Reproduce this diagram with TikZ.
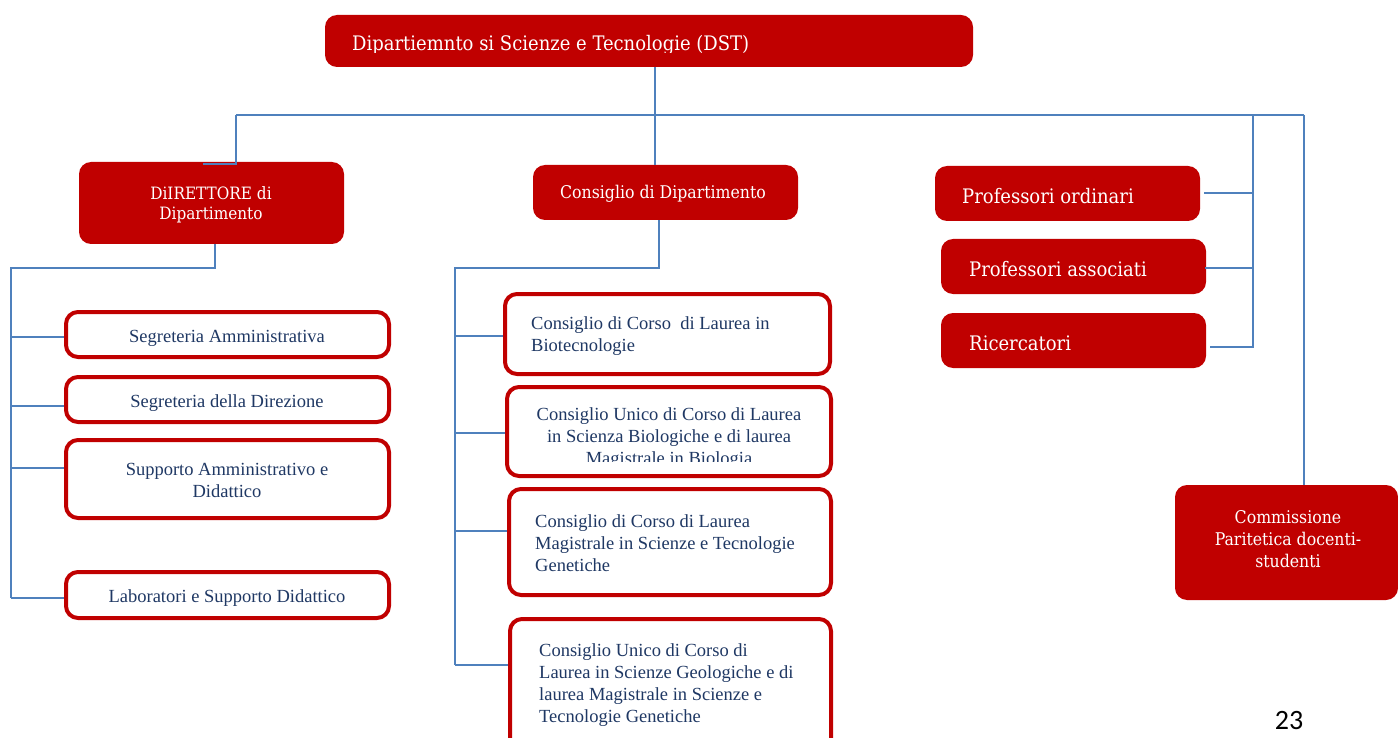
\documentclass[tikz,border=0pt]{standalone}
\usepackage{fontspec}
\newfontfamily\boxfont{DejaVu Serif Condensed}
\newfontfamily\plainserif{Liberation Serif}
\newfontfamily\pagefont{Carlito}
\newcommand\redfnt[2]{\boxfont\fontsize{#1}{#2}\selectfont}
\newcommand\navyfnt[2]{\plainserif\fontsize{#1}{#2}\selectfont}
\definecolor{dstred}{RGB}{192,0,0}
\definecolor{linkblue}{RGB}{79,129,189}
\definecolor{navytext}{RGB}{31,56,100}
\begin{document}
\begin{tikzpicture}[x=1pt,y=-1pt,
  redbox/.style={fill=dstred, draw=none, rounded corners=12pt, inner sep=0pt},
  whitebox/.style={fill=white, draw=dstred, line width=4pt, rounded corners=12pt, inner sep=0pt},
  redtext/.style={text=white, inner sep=0pt},
  navylabel/.style={text=navytext, inner sep=0pt, font={\navyfnt{18.5}{22}}},
  link/.style={draw=linkblue, line width=1.8pt}]
\useasboundingbox (0,0) rectangle (1398,738);
\clip (0,0) rectangle (1398,738);

% ---- junction points of the connector lines ----
\coordinate (hub) at (655,115);
\coordinate (jl) at (236,115);
\coordinate (jm) at (1253,115);
\coordinate (jr) at (1304,115);
\coordinate (dk) at (203,164);
\coordinate (rk) at (1210,347);
\coordinate (pk) at (1204,193);
\coordinate (ak) at (1205,268);

% director tree
\coordinate (dt) at (215,268);
\coordinate (dl) at (11,268);
\coordinate (d1) at (11,337);
\coordinate (d2) at (11,406);
\coordinate (d3) at (11,468);
\coordinate (d4) at (11,598);

% council tree
\coordinate (mt) at (659,268);
\coordinate (ml) at (455,268);
\coordinate (m1) at (455,336);
\coordinate (m2) at (455,433);
\coordinate (m3) at (455,531);
\coordinate (m4) at (455,665);

% ---- top box ----
\node[redbox, minimum width=648, minimum height=52] (dst) at (649,41) {};
\begin{scope}
  \clip (325,15) rectangle (973,53);
  \node[redtext, anchor=west, font={\redfnt{20}{22}}] (dstt) at (352,45.5)
    {Dipartiemnto si Scienze e Tecnologie (DST)};
\end{scope}

% ---- second level ----
\node[redbox, minimum width=265, minimum height=82] (dir) at (211.5,203) {};
\node[redtext, align=center, font={\redfnt{17}{20}}] (dirt) at (211,205)
  {DiIRETTORE di\\Dipartimento};

\node[redbox, minimum width=265, minimum height=55] (cdd) at (665.5,192.5) {};
\node[redtext, font={\redfnt{17.5}{20}}] (cddt) at (663,194) {Consiglio di Dipartimento};

\node[redbox, minimum width=265, minimum height=55] (po) at (1067.5,193.5) {};
\node[redtext, anchor=west, font={\redfnt{20}{22}}] (pot) at (962,196.5) {Professori ordinari};

\node[redbox, minimum width=265, minimum height=55] (pa) at (1073.5,266.5) {};
\node[redtext, anchor=west, font={\redfnt{20}{22}}] (pat) at (969,269) {Professori associati};

\node[redbox, minimum width=265, minimum height=55] (ric) at (1073.5,340.5) {};
\node[redtext, anchor=west, font={\redfnt{20}{22}}] (rict) at (969,343.5) {Ricercatori};

\node[redbox, minimum width=223, minimum height=115] (cp) at (1286.5,542.5) {};
\node[redtext, align=center, font={\redfnt{17.5}{22}}] (cpt) at (1288,539.5)
  {Commissione\\Paritetica docenti-\\studenti};

% ---- director offices ----
\node[whitebox, minimum width=323, minimum height=45] (sa) at (227.5,334.5) {};
\node[navylabel] (sat) at (227,338) {Segreteria Amministrativa};

\node[whitebox, minimum width=323, minimum height=45] (sd) at (227.5,399.5) {};
\node[navylabel] (sdt) at (227,403.5) {Segreteria della Direzione};

\node[whitebox, minimum width=323, minimum height=78] (sup) at (227.5,479) {};
\node[navylabel, align=center] (supt) at (227,480) {Supporto Amministrativo e\\Didattico};

\node[whitebox, minimum width=323, minimum height=46] (lab) at (227.5,595) {};
\node[navylabel] (labt) at (227,598) {Laboratori e Supporto Didattico};

% ---- degree councils ----
\node[whitebox, minimum width=325, minimum height=80] (b1) at (667.5,334) {};
\node[navylabel, anchor=west, align=left] (b1t) at (531,336.5)
  {Consiglio di Corso\ \ di Laurea in\\Biotecnologie};

\node[whitebox, minimum width=324, minimum height=89] (b2) at (669,431.5) {};
\begin{scope}
  \clip (505,385) rectangle (833,461);
  \node[navylabel, align=center] (b2t) at (669,438)
    {Consiglio Unico di Corso di Laurea\\in Scienza Biologiche e di laurea\\Magistrale in Biologia};
\end{scope}

\node[whitebox, minimum width=322, minimum height=106] (b3) at (670,542) {};
\node[navylabel, anchor=west, align=left] (b3t) at (535,543.5)
  {Consiglio di Corso di Laurea\\Magistrale in Scienze e Tecnologie\\Genetiche};

\node[whitebox, minimum width=321, minimum height=152] (b4) at (670.5,695) {};
\node[navylabel, anchor=west, align=left] (b4t) at (539,685)
  {Consiglio Unico di Corso di\\Laurea in Scienze Geologiche e di\\laurea Magistrale in Scienze e\\Tecnologie Genetiche};

% ---- connector lines ----
\draw[link] (dst.south -| hub) -- (hub) -- (hub |- cdd.north);
\draw[link] (jl) -- (jr);
\draw[link] (jl) |- (dk);
\draw[link] (jm) |- (pk);
\draw[link] (jm |- ak) -- (ak);
\draw[link] (jm) |- (rk);
\draw[link] (jr) -- (jr |- cp.north);

\draw[link] (dt |- dir.south) -- (dt) -- (dl) -- (d4);
\draw[link] (d1) -- (d1 -| sa.west);
\draw[link] (d2) -- (d2 -| sd.west);
\draw[link] (d3) -- (d3 -| sup.west);
\draw[link] (d4) -- (d4 -| lab.west);

\draw[link] (mt |- cdd.south) -- (mt) -- (ml) -- (m4);
\draw[link] (m1) -- (m1 -| b1.west);
\draw[link] (m2) -- (m2 -| b2.west);
\draw[link] (m3) -- (m3 -| b3.west);
\draw[link] (m4) -- (m4 -| b4.west);

% ---- page number ----
\node[inner sep=0pt, font={\pagefont\fontsize{28}{32}\selectfont}] (pg) at (1289,721) {23};
\end{tikzpicture}
\end{document}
